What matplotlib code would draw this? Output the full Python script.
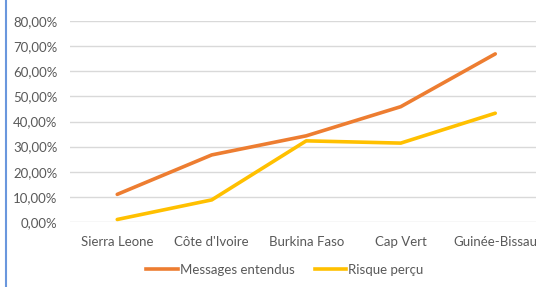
import matplotlib
matplotlib.use("Agg")
import matplotlib.pyplot as plt
from matplotlib.lines import Line2D

# data
countries = ["Sierra Leone", "Côte d'Ivoire", "Burkina Faso", "Cap Vert", "Guinée-Bissau"]
messages = [0.110, 0.267, 0.343, 0.459, 0.669]
risque = [0.010, 0.088, 0.323, 0.314, 0.433]
y_ticks = [0, 0.1, 0.2, 0.3, 0.4, 0.5, 0.6, 0.7, 0.8]

orange = "#ED7D31"
yellow = "#FFC000"
txt = "#595959"

plt.rcParams['font.family'] = ['Lato', 'DejaVu Sans']

fig = plt.figure(figsize=(5.36, 2.87), dpi=100)
# axes runs past the right edge, like the cropped original
ax = fig.add_axes([70 / 536, 1 - 222 / 287, 472.5 / 536, 201 / 287])

x = range(len(countries))
ax.plot(x, messages, color=orange, lw=2.6, solid_capstyle='round', label="Messages entendus", zorder=3)
ax.plot(x, risque, color=yellow, lw=2.6, solid_capstyle='round', label="Risque perçu", zorder=3)

ax.set_xlim(-0.5, len(countries) - 0.5)
ax.set_ylim(0, 0.8)
ax.set_yticks(y_ticks)
ax.set_yticklabels([f"{v*100:.2f}%".replace(".", ",") for v in y_ticks], color=txt, fontsize=9.5)
ax.set_xticks(list(x))
ax.set_xticklabels(countries, color=txt, fontsize=9.5)
ax.tick_params(length=0, pad=10)
ax.tick_params(axis='y', pad=9)
ax.grid(axis='y', color="#D9D9D9", lw=1)
ax.set_axisbelow(True)
for s in ax.spines.values():
    s.set_visible(False)

handles = [Line2D([], [], color=orange, lw=2.6), Line2D([], [], color=yellow, lw=2.6)]
fig.legend(handles, ["Messages entendus", "Risque perçu"], loc='center',
           bbox_to_anchor=(285 / 536, 1 - 270 / 287), ncol=2, frameon=False,
           fontsize=9.5, labelcolor=txt, handlelength=2.4, handletextpad=0.15,
           columnspacing=1.5)

# blue left border of the cropped chart frame
fig.add_artist(Line2D([5.5 / 536, 5.5 / 536], [0, 1], color="#6A97DD", lw=1.5))

fig.savefig("out.png", dpi=100)
